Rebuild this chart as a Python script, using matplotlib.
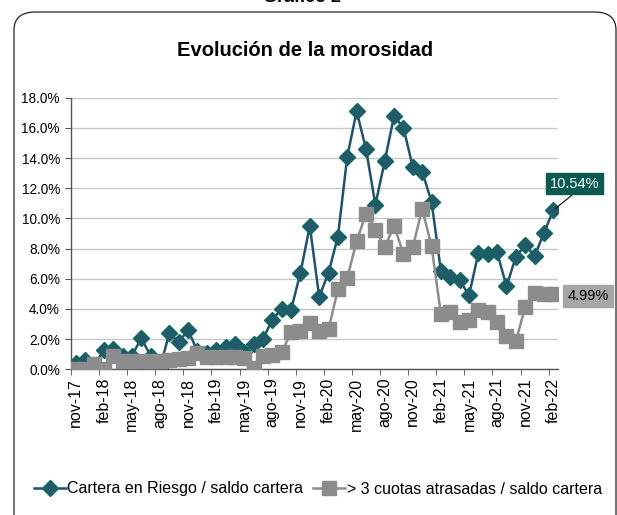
"""Evolución de la morosidad - recreated chart"""
import matplotlib
matplotlib.use("Agg")
import matplotlib.pyplot as plt
from matplotlib.patches import FancyBboxPatch

plt.rcParams["font.family"] = ["Liberation Sans", "DejaVu Sans"]

# monthly data, nov-17 .. feb-22
months = ["nov-17", "dic-17", "ene-18", "feb-18", "mar-18", "abr-18", "may-18", "jun-18",
          "jul-18", "ago-18", "sep-18", "oct-18", "nov-18", "dic-18", "ene-19", "feb-19",
          "mar-19", "abr-19", "may-19", "jun-19", "jul-19", "ago-19", "sep-19", "oct-19",
          "nov-19", "dic-19", "ene-20", "feb-20", "mar-20", "abr-20", "may-20", "jun-20",
          "jul-20", "ago-20", "sep-20", "oct-20", "nov-20", "dic-20", "ene-21", "feb-21",
          "mar-21", "abr-21", "may-21", "jun-21", "jul-21", "ago-21", "sep-21", "oct-21",
          "nov-21", "dic-21", "ene-22", "feb-22"]

cartera_riesgo = [0.4, 0.6, 0.3, 1.25, 1.35, 0.9, 0.9, 2.05, 0.9, 0.1, 2.4, 1.8,
                  2.6, 1.2, 1.1, 1.25, 1.5, 1.65, 1.15, 1.65, 2.0, 3.3, 4.0, 3.95,
                  6.4, 9.5, 4.8, 6.4, 8.8, 14.1, 17.1, 14.6, 10.9, 13.8, 16.8, 16.0,
                  13.4, 13.1, 11.1, 6.5, 6.1, 5.9, 4.9, 7.7, 7.65, 7.75, 5.5, 7.45,
                  8.25, 7.5, 9.05, 10.54]

cuotas_atrasadas = [0.0, 0.0, 0.35, 0.0, 0.9, 0.55, 0.55, 0.55, 0.55, 0.55, 0.6, 0.65,
                    0.75, 1.1, 0.8, 0.8, 0.8, 0.8, 0.75, 0.07, 0.85, 0.95, 1.15, 2.45,
                    2.55, 3.1, 2.55, 2.65, 5.3, 6.05, 8.5, 10.3, 9.25, 8.1, 9.5, 7.65,
                    8.1, 10.65, 8.15, 3.65, 3.8, 3.15, 3.3, 3.95, 3.8, 3.15, 2.2, 1.85,
                    4.15, 5.05, 4.98, 4.99]

y_ticks = [0, 2, 4, 6, 8, 10, 12, 14, 16, 18]

TEAL_LINE = "#1f5170"
TEAL_MARK = "#215b6b"
TEAL_EDGE = "#0d6a5c"
TEAL_BOX = "#0b5c50"
GRAY = "#8c8c8c"

x = list(range(len(months)))

fig = plt.figure(figsize=(6.17, 5.15), dpi=100)

# rounded outer frame
frame = FancyBboxPatch((14 / 617, -0.1), (602 / 617), 1.1 - 12 / 515,
                       boxstyle="round,pad=0,rounding_size=0.035",
                       transform=fig.transFigure, fill=False,
                       edgecolor="#222222", linewidth=0.9)
fig.patches.append(frame)

fig.text(0.49, 1.0 + 3 / 515, "Gráfico 2", ha="center", va="center",
         fontsize=13, fontweight="bold")
fig.text(0.495, 1 - 50 / 515, "Evolución de la morosidad", ha="center", va="center",
         fontsize=14.5, fontweight="bold")

ax = fig.add_axes([71 / 617, 1 - 369.3 / 515, 487 / 617, 271.6 / 515])

ax.plot(x, cartera_riesgo, color=TEAL_LINE, lw=1.8, marker="D", ms=8,
        mfc=TEAL_MARK, mec=TEAL_EDGE, mew=1.0, zorder=2,
        label="Cartera en Riesgo / saldo cartera")
ax.plot(x, cuotas_atrasadas, color=GRAY, lw=1.8, marker="s", ms=9.5,
        mfc=GRAY, mec=GRAY, zorder=3,
        label="> 3 cuotas atrasadas / saldo cartera")

ax.set_xlim(-0.5, len(months) - 0.5)
ax.set_ylim(0, 18)
ax.set_yticks(y_ticks)
ax.set_yticklabels([f"{v:.1f}%" for v in y_ticks], fontsize=9.8)
ax.grid(axis="y", color="#c8c8c8", lw=1.0)
ax.set_axisbelow(True)

ax.set_xticks(x[::3])
ax.set_xticklabels(months[::3], rotation=90, fontsize=11.5)
ax.set_xticks([i - 0.5 for i in x[::3]], minor=True)
ax.tick_params(axis="x", which="major", length=0, pad=6)
ax.tick_params(axis="x", which="minor", length=4, color="#555555")
ax.tick_params(axis="y", length=4, color="#555555", pad=4)

for side in ("top", "right"):
    ax.spines[side].set_visible(False)
for side in ("left", "bottom"):
    ax.spines[side].set_color("#555555")
    ax.spines[side].set_linewidth(1.0)

# end-of-series labels
last = len(months) - 1
ax.annotate(f"{cartera_riesgo[-1]:.2f}%", xy=(last, cartera_riesgo[-1]),
            xytext=(53.3, 12.3), ha="center", va="center", fontsize=10.5,
            color="white", annotation_clip=False,
            bbox=dict(boxstyle="square,pad=0.25", fc=TEAL_BOX, ec=TEAL_BOX),
            arrowprops=dict(arrowstyle="-", color="black", lw=0.8,
                            relpos=(0.55, 0), shrinkA=0, shrinkB=2))
ax.text(54.7, 4.85, f"{cuotas_atrasadas[-1]:.2f}%", ha="center", va="center",
        fontsize=10.5, color="black", clip_on=False,
        bbox=dict(boxstyle="square,pad=0.3", fc="#a6a6a6", ec="#a6a6a6"))

fig.legend(loc="center", bbox_to_anchor=(0.515, 1 - 489 / 515), ncol=2, frameon=False,
           fontsize=11.5, handlelength=2.0, columnspacing=0.6, handletextpad=0.1)

fig.savefig("out.png", dpi=100)
